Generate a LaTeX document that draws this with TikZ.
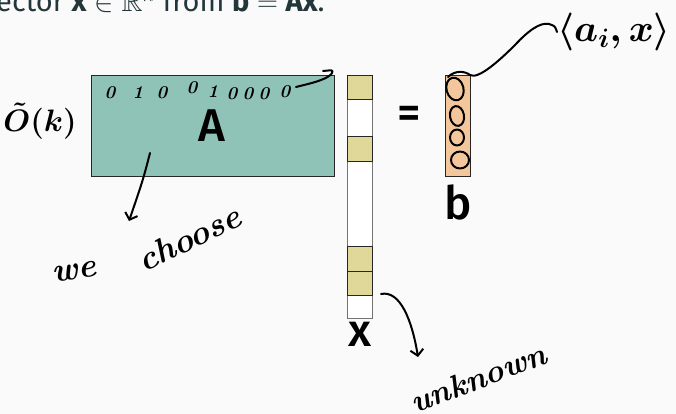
\RequirePackage{fix-cm}
\documentclass[tikz,border=0pt]{standalone}
\usepackage{fontspec}
\usepackage{amsmath}
\usepackage{amssymb}
\usetikzlibrary{arrows.meta, calc}
\newfontfamily\slidefont{Fira Sans}
\newfontfamily\slidefontmed{Fira Sans Medium}
\definecolor{slidebg}{HTML}{FAFAFA}
\definecolor{slidetext}{HTML}{23373B}
\definecolor{matA}{HTML}{8FC3B8}
\definecolor{vecx}{HTML}{E0D898}
\definecolor{vecb}{HTML}{F4C69B}

\tikzset{
  ink/.style={line width=2pt, line cap=round, line join=round, draw=black},
  inktip/.style={-{Straight Barb[length=6pt, width=13pt, line width=2pt]}},
  hand/.style={font=\bfseries\itshape\fontsize{34}{34}\selectfont, text=black, inner sep=0pt},
  handmath/.style={font=\fontsize{36}{36}\selectfont\boldmath, text=black, inner sep=0pt},
  digit/.style={font=\bfseries\itshape\fontsize{18}{18}\selectfont, text=black, inner sep=0pt},
  bigletter/.style={font=\slidefontmed\fontsize{46}{46}\selectfont, inner sep=0pt},
  xcell/.style={draw=black!85, fill=vecx, line width=0.8pt},
}

\begin{document}
\begin{tikzpicture}[x=1pt, y=-1pt]
        \useasboundingbox (0,0) rectangle (676,414);
        \clip (0,0) rectangle (676,414);
        \fill[slidebg] (0,0) rectangle (676,414);
        % slide text, cut at the top
        \node[anchor=base west, inner sep=0pt, text=slidetext,
              font=\slidefont\fontsize{29}{29}\selectfont] (headline) at (-4,12)
          {ector {\bfseries x} $\in\mathbb{R}^n$ from {\bfseries b} $=$ {\bfseries Ax}.};
        % matrix A
        \draw[draw=black!85, fill=matA, line width=0.8pt]
          (91.5,75.5) rectangle (334.5,176.5);
        \node[bigletter] (Alabel) at (212,126) {A};
        % vector x
        \draw[draw=black!55, fill=white, line width=0.8pt]
          (347.5,75.5) rectangle (372,318.3);
        \draw[xcell] (347.5,75.5) rectangle (372,99.7);
        \draw[xcell] (347.5,136.7) rectangle (372,161.3);
        \draw[xcell] (347.5,246.7) rectangle (372,271.3);
        \draw[xcell] (347.5,271.3) rectangle (372,295.3);
        \node[bigletter] (xlabel) at (359.5,334) {x};
        % equals and vector b
        \node[bigletter] (eqsign) at (409,117) {=};
        \draw[draw=black!85, fill=vecb, line width=0.8pt]
          (445,75.5) rectangle (470,176.5);
        \node[bigletter] (blabel) at (458,202) {b};

        % handwritten notes
        \node[handmath, font=\fontsize{31}{31}\selectfont\boldmath] (Ok) at (40,121) {$\tilde{O}(k)$};
        \foreach \px/\py/\d in {110/93/0, 138/93/1, 162/93/0, 192/88/0, 213/92/1,
                                232/94/0, 248/94/0, 264/94/0, 285/92/0}
          \node[digit] at (\px,\py) {\d};
        \draw[ink] (296,87) -- (308,84) .. controls (320,81) and (330,77) .. (332,73)
          .. controls (333,70) .. (323,71);
        \node[hand, rotate=8] (we) at (74,272) {we};
        \node[hand, rotate=26] (choose) at (189,238) {choose};
        \node[hand, rotate=21, font=\bfseries\itshape\fontsize{32}{32}\selectfont]
          (unknown) at (478,378) {unknown};
        \node[handmath, anchor=west, font=\fontsize{38}{38}\selectfont\boldmath]
          (ip) at (557,32) {$\langle a_i, x\rangle$};

        % loops drawn in b
        \draw[ink] (455,89) ellipse [x radius=8.5, y radius=11.5, rotate=15];
        \draw[ink] (457,116) ellipse [x radius=7, y radius=10, rotate=10];
        \draw[ink] (457,137.5) ellipse [x radius=7, y radius=8];
        \draw[ink] (460,160) ellipse [x radius=9, y radius=8.5];

        % connectors
        \coordinate (Apick) at (150,153);
        \coordinate (chooseTip) at (129,221);
        \coordinate (bhook) at (448,77);
        \coordinate (xhook) at (381,294);
        \coordinate (unkTip) at (418,357);
        \draw[ink, inktip] (Apick) .. controls (143,180) .. (chooseTip);
        \draw[ink] (bhook) .. controls (455,70) and (465,71) .. (470,75)
          .. controls (478,80) and (500,60) .. (515,45)
          .. controls (528,31) and (540,22) .. (549,24)
          .. controls (555,26) .. (ip.west);
        \draw[ink, inktip] (xhook) .. controls (400,290) and (412,320) .. (unkTip);
      \end{tikzpicture}
\end{document}
